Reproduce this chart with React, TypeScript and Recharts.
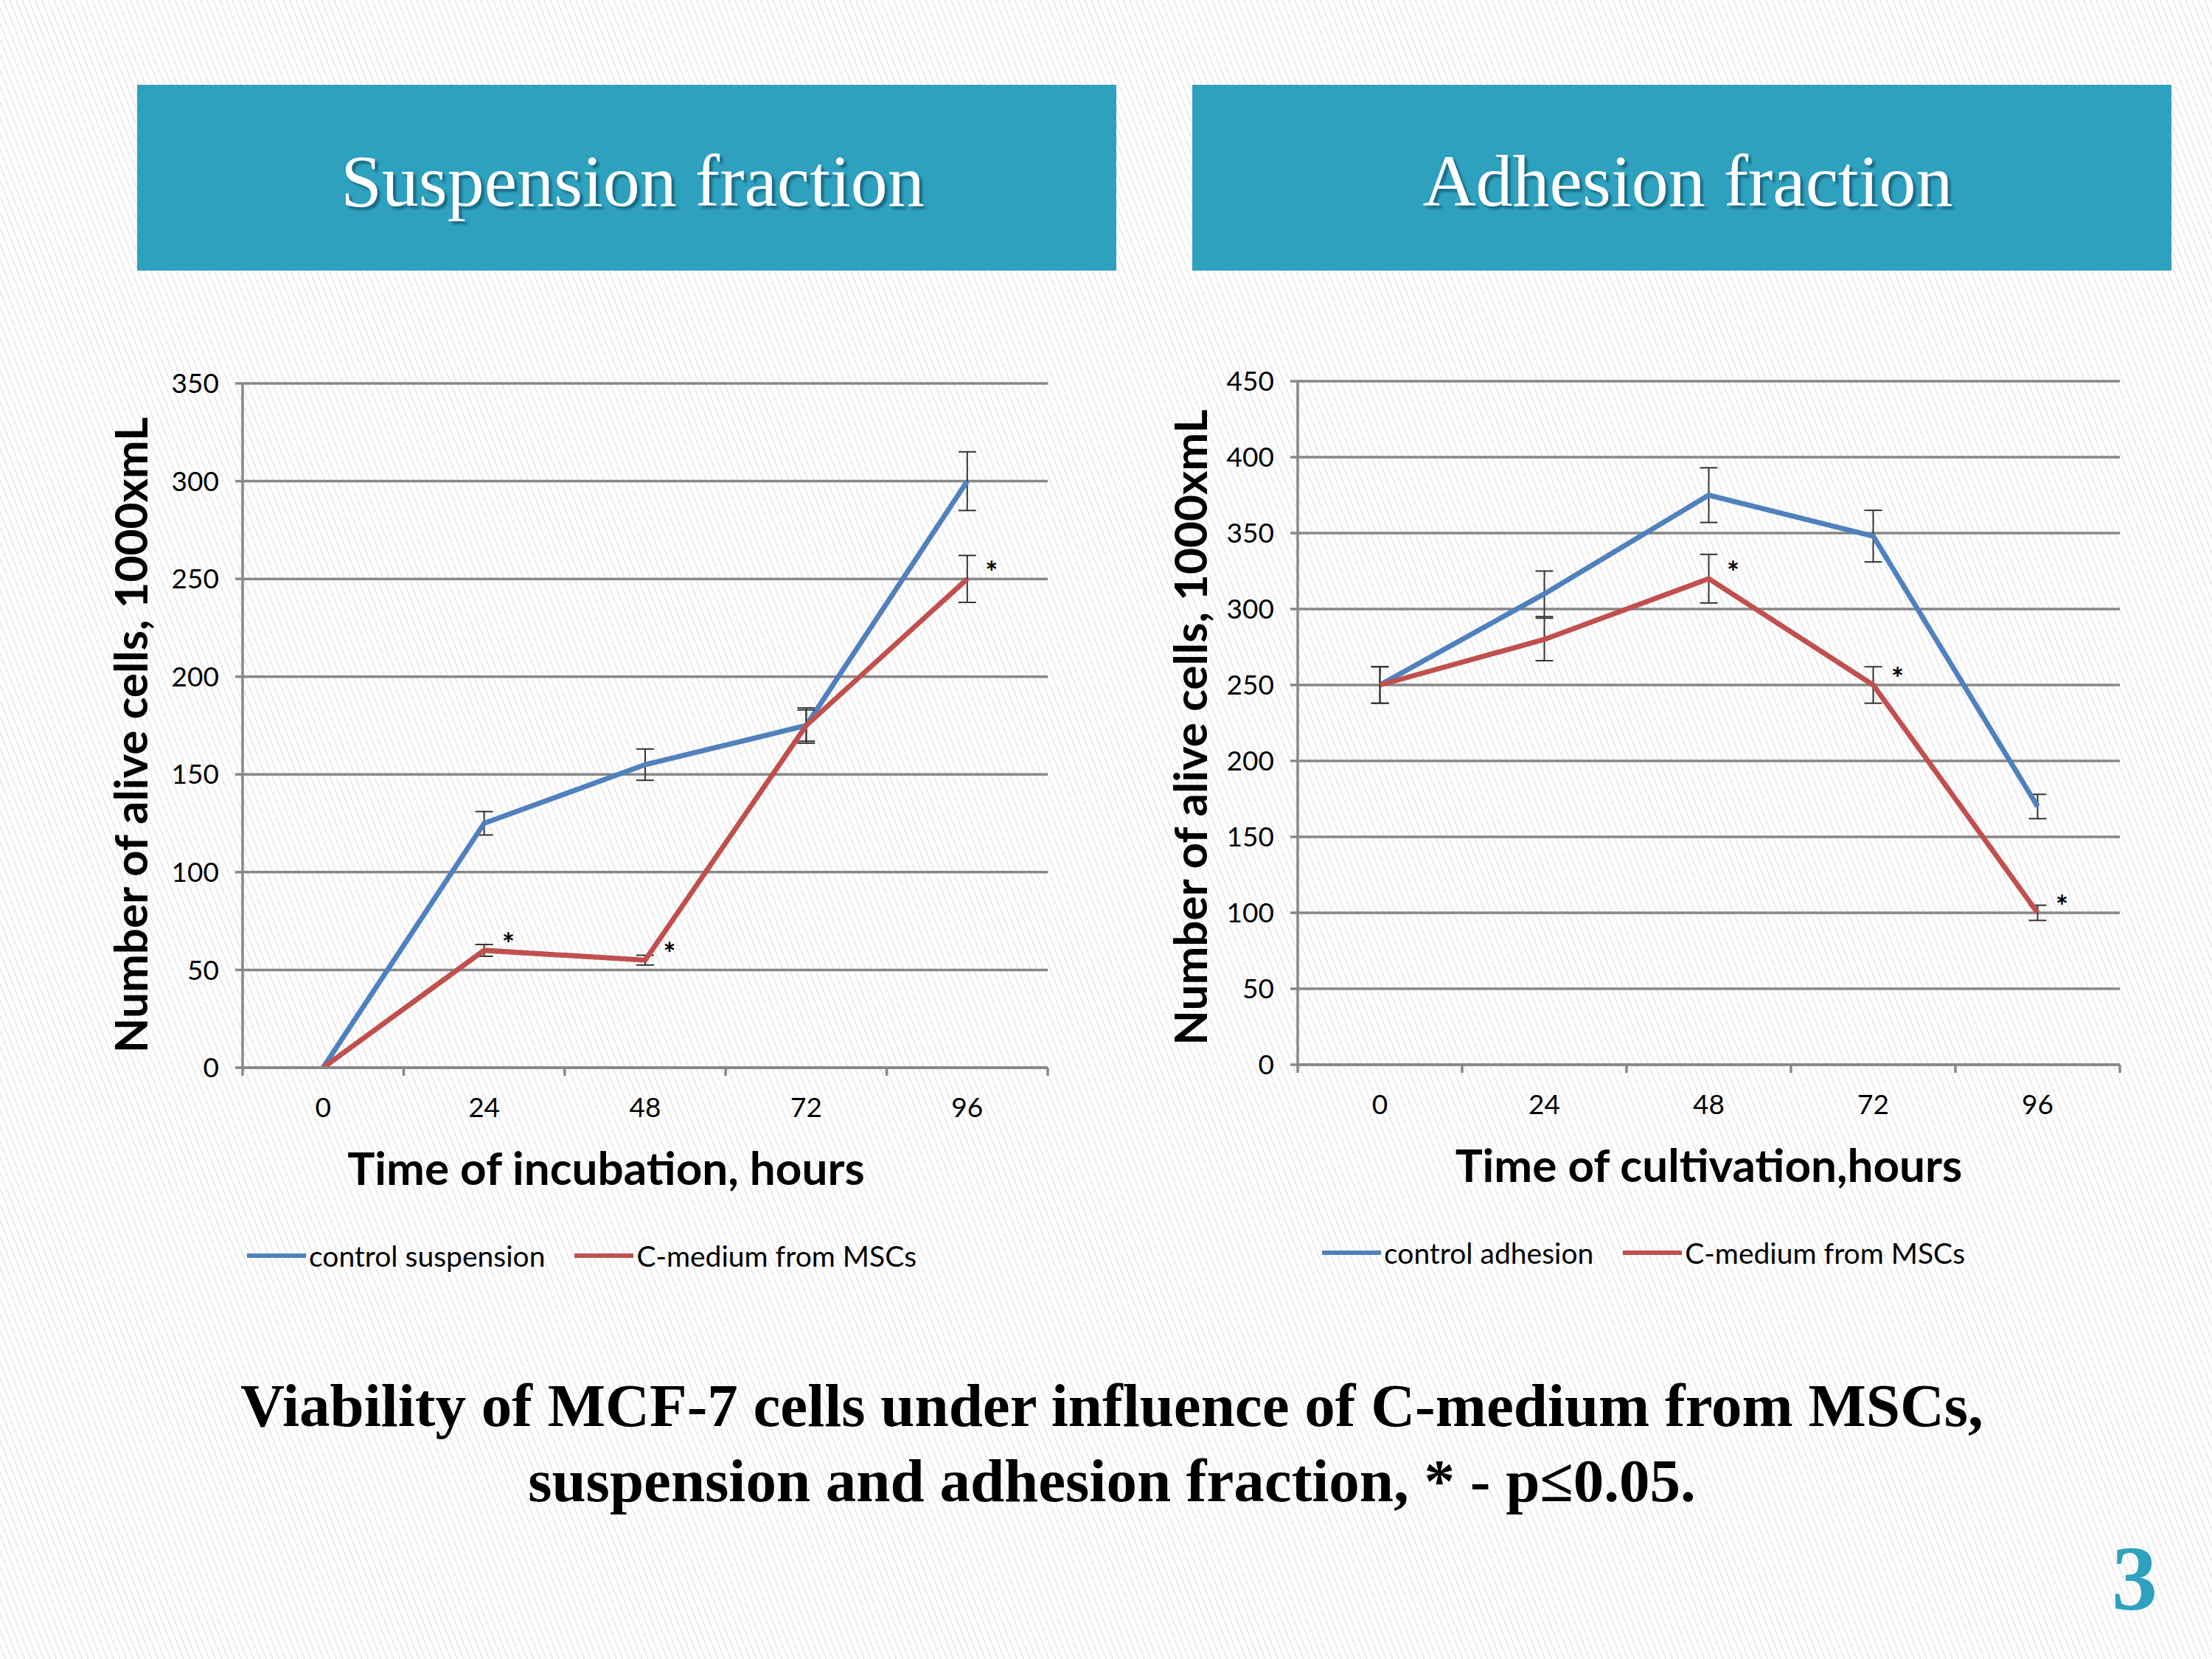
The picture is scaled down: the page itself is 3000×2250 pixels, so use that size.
import React from 'react';
import { LineChart, Line, XAxis, YAxis, CartesianGrid, ErrorBar, Legend, LabelList, Label } from 'recharts';

// ---------- data ----------
const hours = ['0', '24', '48', '72', '96'];

const suspControl = [0, 125, 155, 175, 300];
const suspControlErr = [0, 6, 8, 9, 15];
const suspMedium = [0, 60, 55, 175, 250];
const suspMediumErr = [0, 3, 2.5, 8, 12];
const suspStars = [false, true, true, false, true];

const adhControl = [250, 310, 375, 348, 170];
const adhControlErr = [12, 15, 18, 17, 8];
const adhMedium = [250, 280, 320, 250, 100];
const adhMediumErr = [12, 14, 16, 12, 5];
const adhStars = [false, false, true, true, true];

const suspTicks = [0, 50, 100, 150, 200, 250, 300, 350];
const adhTicks = [0, 50, 100, 150, 200, 250, 300, 350, 400, 450];
const seriesOrder = ['ctrl', 'med'];

const buildRows = (ctrl: number[], ctrlErr: number[], med: number[], medErr: number[], stars: boolean[]) =>
  hours.map((h, i) => ({
    hour: h,
    ctrl: ctrl[i],
    ctrlErr: ctrlErr[i],
    med: med[i],
    medErr: medErr[i],
    star: stars[i] ? '*' : '',
  }));

const suspRows = buildRows(suspControl, suspControlErr, suspMedium, suspMediumErr, suspStars);
const adhRows = buildRows(adhControl, adhControlErr, adhMedium, adhMediumErr, adhStars);

// ---------- styles ----------
const BLUE = '#4F81BD';
const RED = '#C0504D';
const GRID = '#878787';
const TEAL = '#2EA1BF';
const SANS = 'Lato, "Noto Sans", sans-serif';
const SERIF = '"Liberation Serif", "DejaVu Serif", serif';
const X_TICK_MARGIN = 41;
const X_MARK_LEN = 11;

// Category tick: label at the band centre, tick marks at the band edges (Excel style)
const CatTick = (props: any) => {
  const { x, y, payload, index, visibleTicksCount, width } = props;
  const half = payload && payload.offset > 0 ? payload.offset : width / (2 * visibleTicksCount);
  const axisY = y - X_TICK_MARGIN;
  return (
    <g>
      <line x1={x - half} x2={x - half} y1={axisY} y2={axisY + X_MARK_LEN} stroke={GRID} strokeWidth={3.5} />
      {index === visibleTicksCount - 1 ? (
        <line x1={x + half} x2={x + half} y1={axisY} y2={axisY + X_MARK_LEN} stroke={GRID} strokeWidth={3.5} />
      ) : null}
      <text x={x} y={y} dy="0.71em" textAnchor="middle" fill="#000" fontSize={37} fontFamily={SANS}>
        {payload.value}
      </text>
    </g>
  );
};

const renderStar = (props: any) => {
  const { x, y, value } = props;
  if (!value) return null;
  return (
    <text x={x + 33} y={y + 6} textAnchor="middle" fontFamily={SANS} fontWeight={700} fontSize={40} fill="#000">
      {value}
    </text>
  );
};

const makeLegend = () => (props: any) => {
  const payload = [...(props.payload || [])].sort(
    (a: any, b: any) => seriesOrder.indexOf(a.dataKey) - seriesOrder.indexOf(b.dataKey)
  );
  return (
    <div style={{ display: 'flex', alignItems: 'center', height: 60, fontFamily: SANS, fontSize: 39, color: '#000' }}>
      {payload.map((e: any, i: number) => (
        <div key={i} style={{ display: 'flex', alignItems: 'center', marginRight: 40 }}>
          <div style={{ width: 80, height: 6, background: e.color }} />
          <span style={{ marginLeft: 4, whiteSpace: 'nowrap' }}>{e.value}</span>
        </div>
      ))}
    </div>
  );
};

const makeXTitle = (text: string, shift: number, off: number) => (props: any) => {
  const vb = props.viewBox || {};
  return (
    <text
      x={vb.x + vb.width / 2 + shift}
      y={vb.y + off}
      textAnchor="middle"
      dominantBaseline="central"
      fontFamily={SANS}
      fontWeight={700}
      fontSize={62}
      fill="#000"
    >
      {text}
    </text>
  );
};

const makeYTitle = (text: string, offX: number, shiftY: number) => (props: any) => {
  const vb = props.viewBox || {};
  const cx = vb.x + offX;
  const cy = vb.y + vb.height / 2 + shiftY;
  return (
    <text
      transform={`translate(${cx},${cy}) rotate(-90)`}
      textAnchor="middle"
      dominantBaseline="central"
      fontFamily={SANS}
      fontWeight={700}
      fontSize={62}
      fill="#000"
    >
      {text}
    </text>
  );
};

type PanelProps = {
  rows: any[];
  ticks: number[];
  max: number;
  ctrlName: string;
  xTitle: string;
  width: number;
  height: number;
  margin: any;
  yWidth: number;
  legendLeft: number;
  xShift: number;
  yOffX: number;
  yShift: number;
};

const Panel = (p: PanelProps) => (
  <LineChart width={p.width} height={p.height} data={p.rows} margin={p.margin}>
    <CartesianGrid vertical={false} stroke={GRID} strokeWidth={3.5} />
    <XAxis
      dataKey="hour"
      type="category"
      scale="band"
      height={225}
      interval={0}
      axisLine={{ stroke: GRID, strokeWidth: 3.5 }}
      tickLine={false}
      tickSize={0}
      tickMargin={X_TICK_MARGIN}
      tick={<CatTick />}
    >
      <Label content={makeXTitle(p.xTitle, p.xShift, 135)} />
    </XAxis>
    <YAxis
      domain={[0, p.max]}
      ticks={p.ticks}
      allowDataOverflow
      width={p.yWidth}
      tickSize={10}
      tickMargin={22}
      axisLine={{ stroke: GRID, strokeWidth: 3.5 }}
      tickLine={{ stroke: GRID, strokeWidth: 3.5 }}
      tick={{ fill: '#000', fontSize: 37, fontFamily: SANS }}
    >
      <Label content={makeYTitle('Number of alive cells, 1000xmL', p.yOffX, p.yShift)} />
    </YAxis>
    <Legend
      verticalAlign="bottom"
      content={makeLegend()}
      wrapperStyle={{ left: p.legendLeft, width: 'auto' }}
    />
    <Line
      type="linear"
      dataKey="ctrl"
      name={p.ctrlName}
      stroke={BLUE}
      strokeWidth={7}
      dot={false}
      activeDot={false}
      isAnimationActive={false}
    >
      <ErrorBar dataKey="ctrlErr" direction="y" width={12} strokeWidth={2} stroke="#333" isAnimationActive={false} />
    </Line>
    <Line
      type="linear"
      dataKey="med"
      name="C-medium from MSCs"
      stroke={RED}
      strokeWidth={7}
      dot={false}
      activeDot={false}
      isAnimationActive={false}
    >
      <ErrorBar dataKey="medErr" direction="y" width={12} strokeWidth={2} stroke="#333" isAnimationActive={false} />
      <LabelList dataKey="star" content={renderStar} />
    </Line>
  </LineChart>
);

const headerStyle = (left: number): React.CSSProperties => ({
  position: 'absolute',
  left,
  top: 115,
  width: 1328,
  height: 252,
  boxSizing: 'border-box',
  paddingLeft: 16,
  paddingTop: 8,
  background: TEAL,
  display: 'flex',
  alignItems: 'center',
  justifyContent: 'center',
  color: '#fff',
  fontFamily: SERIF,
  fontSize: 100,
  textShadow: '4px 4px 3px rgba(10,60,80,0.55)',
});

export default function App() {
  return (
    <div
      style={{
        position: 'absolute',
        left: 0,
        top: 0,
        width: 3000,
        height: 2250,
        overflow: 'hidden',
        background:
          'repeating-linear-gradient(68deg, #ffffff 0px, #ffffff 6px, #ececec 6px, #ececec 8px)',
      }}
    >
      <div style={headerStyle(186)}>Suspension fraction</div>
      <div style={headerStyle(1617)}>Adhesion fraction</div>

      <div style={{ position: 'absolute', left: 0, top: 440 }}>
        <Panel
          rows={suspRows}
          ticks={suspTicks}
          max={350}
          ctrlName="control suspension"
          xTitle="Time of incubation, hours"
          width={1480}
          height={1320}
          margin={{ top: 80, right: 59, bottom: 27, left: 150 }}
          yWidth={179}
          legendLeft={335}
          xShift={-53}
          yOffX={26}
          yShift={13}
        />
      </div>

      <div style={{ position: 'absolute', left: 1500, top: 440 }}>
        <Panel
          rows={adhRows}
          ticks={adhTicks}
          max={450}
          ctrlName="control adhesion"
          xTitle="Time of cultivation,hours"
          width={1450}
          height={1320}
          margin={{ top: 77, right: 75, bottom: 31, left: 80 }}
          yWidth={180}
          legendLeft={293}
          xShift={0}
          yOffX={33}
          yShift={6}
        />
      </div>

      <div
        style={{
          position: 'absolute',
          left: 0,
          top: 1855,
          width: 3016,
          textAlign: 'center',
          fontFamily: SERIF,
          fontWeight: 700,
          fontSize: 83,
          lineHeight: '102px',
          color: '#000',
        }}
      >
        <div>Viability of MCF-7 cells under influence of C-medium from MSCs,</div>
        <div>suspension and adhesion fraction, * - p≤0.05.</div>
      </div>

      <div
        style={{
          position: 'absolute',
          left: 2835,
          top: 2072,
          width: 120,
          textAlign: 'center',
          fontFamily: SERIF,
          fontWeight: 700,
          fontSize: 124,
          lineHeight: '140px',
          color: TEAL,
        }}
      >
        3
      </div>
    </div>
  );
}
